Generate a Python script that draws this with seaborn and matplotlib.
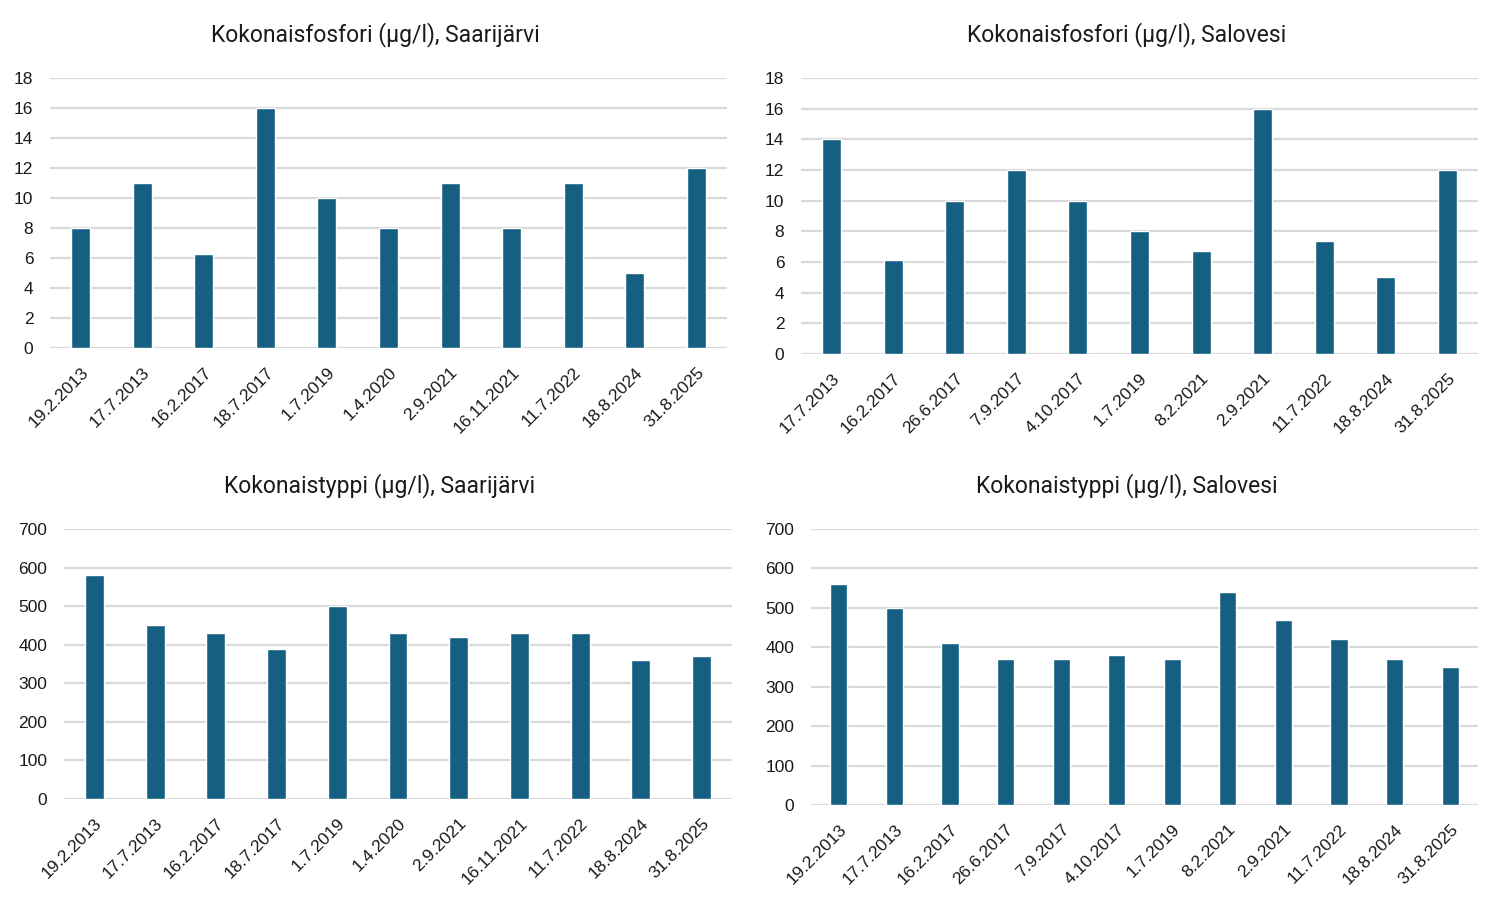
import matplotlib
matplotlib.use("Agg")
import matplotlib.pyplot as plt
import seaborn as sns

# data
p_saari_dates = ["19.2.2013", "17.7.2013", "16.2.2017", "18.7.2017", "1.7.2019", "1.4.2020",
                 "2.9.2021", "16.11.2021", "11.7.2022", "18.8.2024", "31.8.2025"]
p_saari_vals = [8, 11, 6.3, 16, 10, 8, 11, 8, 11, 5, 12]

p_salo_dates = ["17.7.2013", "16.2.2017", "26.6.2017", "7.9.2017", "4.10.2017", "1.7.2019",
                "8.2.2021", "2.9.2021", "11.7.2022", "18.8.2024", "31.8.2025"]
p_salo_vals = [14, 6.1, 10, 12, 10, 8, 6.7, 16, 7.4, 5, 12]

n_saari_dates = ["19.2.2013", "17.7.2013", "16.2.2017", "18.7.2017", "1.7.2019", "1.4.2020",
                 "2.9.2021", "16.11.2021", "11.7.2022", "18.8.2024", "31.8.2025"]
n_saari_vals = [580, 450, 430, 390, 500, 430, 420, 430, 430, 360, 370]

n_salo_dates = ["19.2.2013", "17.7.2013", "16.2.2017", "26.6.2017", "7.9.2017", "4.10.2017",
                "1.7.2019", "8.2.2021", "2.9.2021", "11.7.2022", "18.8.2024", "31.8.2025"]
n_salo_vals = [560, 500, 410, 370, 370, 380, 370, 540, 470, 420, 370, 350]

titles = ["Kokonaisfosfori (µg/l), Saarijärvi", "Kokonaisfosfori (µg/l), Salovesi",
          "Kokonaistyppi (µg/l), Saarijärvi", "Kokonaistyppi (µg/l), Salovesi"]

sns.set_style("white")
plt.rcParams["font.family"] = ["Liberation Sans", "DejaVu Sans"]

BAR = "#156082"
GRID = "#D9D9D9"

fig = plt.figure(figsize=(15.01, 9.02), dpi=100)

W, H = 1501, 902
# (left, top, right, bottom) in pixels of the plot areas
boxes = [(50, 78, 727, 348), (801, 78, 1478, 354), (64, 529, 732, 799), (811, 529, 1478, 805)]
title_pos = [(375, 35), (1127, 35), (380, 486), (1127, 486)]
panels = [(p_saari_dates, p_saari_vals, 18, 2), (p_salo_dates, p_salo_vals, 18, 2),
          (n_saari_dates, n_saari_vals, 700, 100), (n_salo_dates, n_salo_vals, 700, 100)]

for (l, t, r, b), (tx, ty), (dates, vals, ymax, step), title in zip(boxes, title_pos, panels, titles):
    ax = fig.add_axes([l / W, 1 - b / H, (r - l) / W, (b - t) / H])
    sns.barplot(x=dates, y=vals, color=BAR, width=0.31, saturation=1, ax=ax, zorder=3)
    ax.set_ylim(0, ymax)
    ax.set_xlim(-0.5, len(dates) - 0.5)
    ax.set_yticks(range(0, ymax + 1, step))
    ax.yaxis.grid(True, color=GRID, linewidth=1.6, zorder=0)
    ax.set_axisbelow(True)
    for s in ax.spines.values():
        s.set_visible(False)
    ax.tick_params(axis="both", length=0, labelsize=12.5, colors="#1a1a1a")
    ax.tick_params(axis="y", pad=12)
    ax.tick_params(axis="x", pad=12)
    plt.setp(ax.get_xticklabels(), rotation=45, ha="right", rotation_mode="anchor")
    fig.text(tx / W, 1 - ty / H, title, ha="center", va="center", fontsize=16.5,
             family=["Roboto", "DejaVu Sans"], color="#1a1a1a")

fig.savefig("out.png", dpi=100)
